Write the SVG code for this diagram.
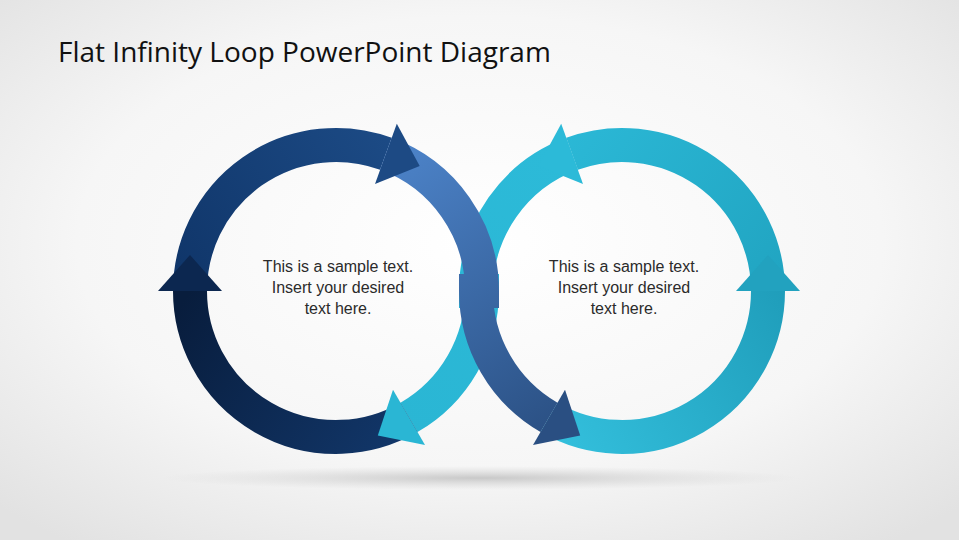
<svg xmlns="http://www.w3.org/2000/svg" width="959" height="540" viewBox="0 0 959 540">
<defs>
<radialGradient id="bg" cx="50%" cy="45%" r="70%"><stop offset="0" stop-color="#ffffff"/><stop offset="0.6" stop-color="#f6f6f6"/><stop offset="1" stop-color="#e2e2e2"/></radialGradient>
<radialGradient id="sh" cx="50%" cy="50%" r="50%"><stop offset="0" stop-color="#bdbdbd" stop-opacity="0.8"/><stop offset="1" stop-color="#d0d0d0" stop-opacity="0"/></radialGradient>
<linearGradient id="gA" gradientUnits="userSpaceOnUse" x1="190" y1="291" x2="409" y2="440"><stop offset="0" stop-color="#081d3d"/><stop offset="1" stop-color="#12376a"/></linearGradient>
<linearGradient id="gB" gradientUnits="userSpaceOnUse" x1="190" y1="291" x2="420" y2="150"><stop offset="0" stop-color="#10366a"/><stop offset="1" stop-color="#1d4c87"/></linearGradient>
<linearGradient id="gE" gradientUnits="userSpaceOnUse" x1="400" y1="160" x2="570" y2="430"><stop offset="0" stop-color="#4b81c6"/><stop offset="1" stop-color="#2a4f82"/></linearGradient>
<linearGradient id="gC" gradientUnits="userSpaceOnUse" x1="550" y1="430" x2="790" y2="291"><stop offset="0" stop-color="#33bfdc"/><stop offset="1" stop-color="#1f9dba"/></linearGradient>
<linearGradient id="gD" gradientUnits="userSpaceOnUse" x1="768" y1="291" x2="560" y2="140"><stop offset="0" stop-color="#21a5c2"/><stop offset="1" stop-color="#2bb8d6"/></linearGradient>
<linearGradient id="gF" gradientUnits="userSpaceOnUse" x1="560" y1="150" x2="400" y2="430"><stop offset="0" stop-color="#2cbad8"/><stop offset="1" stop-color="#2ab6d4"/></linearGradient>
<style>
.seg{fill:none;stroke-width:34;stroke-linecap:butt}
.txt{font-family:"Liberation Sans",Arial,sans-serif;font-size:16px;fill:#2b2b2b;text-anchor:middle}
</style>
</defs>
<rect width="959" height="540" fill="url(#bg)"/>
<ellipse cx="480" cy="478" rx="320" ry="12" fill="url(#sh)"/>
<text x="58" y="62" font-family="'Open Sans','Liberation Sans',sans-serif" font-size="28" fill="#111">Flat Infinity Loop PowerPoint Diagram</text>
<g id="connectors">
<path id="segF" class="seg" stroke="url(#gF)" d="M572.1,153.8 A146 146 0 0 0 476,291 L482,291 A146 146 0 0 1 409,417.4"/>
<path id="segA" class="seg" stroke="url(#gA)" d="M409,417.4 A146 146 0 0 1 190,291"/>
<polygon id="arrF" fill="#2ab6d4" points="425,445.1 393,389.7 377.8,435.4"/>
<path id="segB" class="seg" stroke="url(#gB)" d="M190,291 A146 146 0 0 1 385.9,153.8"/>
<polygon id="arrA" fill="#0c2750" points="158,291 222,291 190,255"/>
<path id="segC" class="seg" stroke="url(#gC)" d="M549,417.4 A146 146 0 0 0 768,291"/>
<path id="segD" class="seg" stroke="url(#gD)" d="M768,291 A146 146 0 0 0 572.1,153.8"/>
<polygon id="arrC" fill="#22a2bf" points="736,291 800,291 768,255"/>
<polygon id="arrD" fill="#2cbad8" points="561.2,123.7 583,183.9 538.3,166.1"/>
<path id="segE" class="seg" stroke="url(#gE)" d="M385.9,153.8 A146 146 0 0 1 482,291 L476,291 A146 146 0 0 0 549,417.4"/>
<polygon id="arrB" fill="#1d4a84" points="396.8,123.7 375,183.9 419.7,166.1"/>
<polygon id="arrE" fill="#2a4f82" points="533,445.1 565,389.7 580.2,435.4"/>
</g>
<g id="left-text">
<text class="txt" x="338" y="272">This is a sample text.</text>
<text class="txt" x="338" y="293">Insert your desired</text>
<text class="txt" x="338" y="314">text here.</text>
</g>
<g id="right-text">
<text class="txt" x="624" y="272">This is a sample text.</text>
<text class="txt" x="624" y="293">Insert your desired</text>
<text class="txt" x="624" y="314">text here.</text>
</g>
</svg>
